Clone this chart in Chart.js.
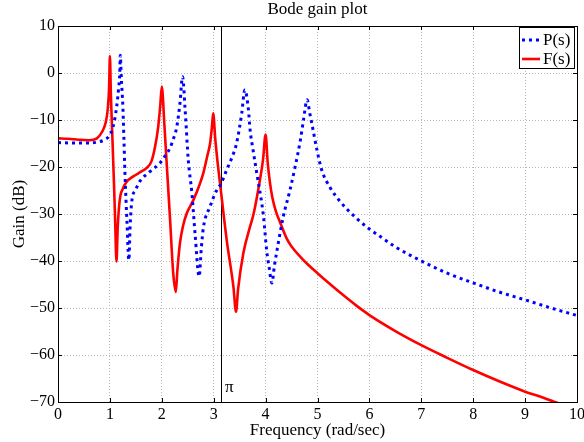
<!DOCTYPE html>
<html>
<head>
<meta charset="utf-8">
<script src="https://cdn.jsdelivr.net/npm/chart.js@4/dist/chart.umd.min.js"></script>
<style>
  html, body { margin: 0; padding: 0; background: #ffffff; }
  #wrap { width: 584px; height: 442px; }
</style>
</head>
<body>
<div id="wrap"><canvas id="c" width="584" height="442"></canvas></div>
<script>
// ---- data ----
const titleText = 'Bode gain plot';
const xTitle = 'Frequency (rad/sec)';
const yTitle = 'Gain (dB)';
const seriesNames = ['P(s)', 'F(s)'];

const xTicks = [0, 1, 2, 3, 4, 5, 6, 7, 8, 9, 10];
const yTicks = [10, 0, -10, -20, -30, -40, -50, -60, -70];

// P(s): blue dotted
const pFreq = [0, 0.3, 0.6, 0.8, 0.9, 1.0, 1.06, 1.13, 1.17, 1.19, 1.20, 1.22, 1.25, 1.27, 1.29, 1.33, 1.365,
  1.39, 1.42, 1.5, 1.58, 1.77, 1.96, 2.08, 2.16, 2.23, 2.29, 2.35, 2.40, 2.45, 2.51, 2.58, 2.64, 2.72,
  2.76, 2.80, 2.93, 3.06, 3.14, 3.25, 3.35, 3.44, 3.54, 3.60, 3.67, 3.70, 3.76, 3.83, 3.96, 4.02, 4.07,
  4.12, 4.17, 4.22, 4.34, 4.47, 4.57, 4.67, 4.73, 4.80, 4.85, 4.89, 4.99, 5.08, 5.25, 5.44, 5.57, 5.76,
  6.0, 6.21, 6.5, 7.02, 7.5, 8.01, 8.5, 9.01, 9.5, 10];
const pGain = [-14.8, -14.9, -14.9, -14.6, -14.2, -13.2, -11.5, -7.2, -3, -0.1, 3.8, -1, -7.2, -14, -21.3, -32, -39.8,
  -32.5, -27.5, -24.8, -23, -21, -19.2, -17.4, -15.9, -13.8, -11.4, -6.4, -0.8, -7.9, -18.5, -25.6, -34.1, -43.3,
  -37.5, -33, -28.4, -24.9, -23.6, -20.6, -18, -15, -8.6, -3.6, -7.9, -12, -16.5, -21.3, -30.6, -37.7, -41.5,
  -44.7, -41, -37.7, -30.6, -24.9, -19.9, -14.3, -10, -5.7, -8.5, -10.7, -16.4, -20.6, -24.5, -27.4, -29, -31,
  -33.2, -34.8, -37, -40.1, -42.6, -44.7, -46.6, -48.3, -50, -51.6];

// F(s): red solid
const fFreq = [0, 0.2, 0.4, 0.6, 0.75, 0.85, 0.92, 0.96, 0.985, 1.0, 1.02, 1.05, 1.08, 1.10, 1.127, 1.15, 1.19,
  1.25, 1.32, 1.45, 1.6, 1.71, 1.8, 1.87, 1.93, 1.97, 2.0, 2.05, 2.09, 2.16, 2.22, 2.27, 2.30, 2.35, 2.41,
  2.48, 2.61, 2.72, 2.80, 2.88, 2.93, 2.97, 2.99, 3.03, 3.08, 3.14, 3.25, 3.38, 3.43, 3.47, 3.57, 3.70, 3.77,
  3.89, 3.95, 4.0, 4.04, 4.08, 4.13, 4.2, 4.28, 4.41, 4.5, 4.67, 4.83, 5.0, 5.25, 5.5, 5.75, 6.0, 6.5, 7.0,
  7.5, 8.0, 8.5, 9.0, 9.3, 9.57, 10];
const fGain = [-13.9, -14.0, -14.2, -14.3, -13.9, -12.5, -10.5, -7.5, -3, 3.6, -5, -14.3, -24, -31, -40.1, -33, -27,
  -24.6, -23.2, -22, -21, -20.2, -18.8, -15.7, -11.5, -7, -2.9, -11, -18.5, -31.3, -42.6, -46.6, -42, -36.2, -32.5,
  -29.9, -27, -24, -21.3, -17.5, -15, -11, -8.6, -14, -19.5, -25.2, -35.5, -45.5, -50.8, -46, -38.4, -32.7, -29.9,
  -22.8, -18.5, -13.1, -19, -23, -26.5, -29.5, -31.8, -35.3, -36.9, -39.1, -40.9, -42.6, -45.0, -47.3, -49.5, -51.5, -54.9, -57.9,
  -60.6, -63.2, -65.6, -67.8, -68.9, -70, -71.5];

// marker line at pi
const markerFreq = Math.PI;
const markerLabel = 'π';

const pts = (xs, ys) => xs.map((x, i) => ({ x: x, y: ys[i] }));

const SERIF = '"Liberation Serif", "Times New Roman", serif';
const tickFont = { family: SERIF, size: 16 };
const labelFont = '17px ' + SERIF;

const decorPlugin = {
  id: 'decor',
  beforeDatasetsDraw(chart) {
    const ctx = chart.ctx;
    const px = Math.round(chart.scales.x.getPixelForValue(markerFreq)) + 0.5;
    ctx.save();
    ctx.strokeStyle = '#000';
    ctx.lineWidth = 1;
    ctx.beginPath();
    ctx.moveTo(px, chart.scales.y.getPixelForValue(10));
    ctx.lineTo(px, chart.scales.y.getPixelForValue(-70));
    ctx.stroke();
    ctx.restore();
  },
  afterDraw(chart) {
    const ctx = chart.ctx;
    const a = chart.chartArea;
    const xs = chart.scales.x, ys = chart.scales.y;
    ctx.save();
    // frame
    ctx.strokeStyle = '#000';
    ctx.lineWidth = 1;
    ctx.setLineDash([]);
    ctx.strokeRect(Math.round(a.left) + 0.5, Math.round(a.top) + 0.5,
      Math.round(a.right - a.left), Math.round(a.bottom - a.top));
    // inward ticks
    const tl = 4;
    ctx.beginPath();
    xTicks.forEach(v => {
      const px = Math.round(xs.getPixelForValue(v)) + 0.5;
      ctx.moveTo(px, a.bottom); ctx.lineTo(px, a.bottom - tl);
      ctx.moveTo(px, a.top); ctx.lineTo(px, a.top + tl);
    });
    yTicks.forEach(v => {
      const py = Math.round(ys.getPixelForValue(v)) + 0.5;
      ctx.moveTo(a.left, py); ctx.lineTo(a.left + tl, py);
      ctx.moveTo(a.right, py); ctx.lineTo(a.right - tl, py);
    });
    ctx.stroke();

    // title
    ctx.fillStyle = '#000';
    ctx.font = labelFont;
    ctx.textAlign = 'center';
    ctx.textBaseline = 'alphabetic';
    ctx.fillText(titleText, (a.left + a.right) / 2, 14);
    // x title
    ctx.fillText(xTitle, (a.left + a.right) / 2, 435);
    // y title
    ctx.save();
    ctx.translate(24, (a.top + a.bottom) / 2);
    ctx.rotate(-Math.PI / 2);
    ctx.fillText(yTitle, 0, 0);
    ctx.restore();

    // pi label
    ctx.textAlign = 'left';
    ctx.font = '17px ' + SERIF;
    ctx.fillText(markerLabel, xs.getPixelForValue(markerFreq) + 4, 392);

    // legend
    const lx = 519.5, ly = 27.5, lw = 55, lh = 41;
    ctx.fillStyle = '#fff';
    ctx.fillRect(lx, ly, lw, lh);
    ctx.strokeStyle = '#000';
    ctx.lineWidth = 1;
    ctx.strokeRect(lx, ly, lw, lh);
    const items = [chart.data.datasets[0], chart.data.datasets[1]];
    const rowY = [40, 59];
    items.forEach((ds, i) => {
      ctx.beginPath();
      ctx.strokeStyle = ds.borderColor;
      ctx.lineWidth = ds.borderWidth;
      ctx.lineCap = 'butt';
      ctx.setLineDash(ds.borderDash || []);
      ctx.moveTo(522, rowY[i]);
      ctx.lineTo(540, rowY[i]);
      ctx.stroke();
      ctx.setLineDash([]);
      ctx.fillStyle = '#000';
      ctx.font = labelFont;
      ctx.textBaseline = 'middle';
      ctx.fillText(ds.label, 543, rowY[i] + 1);
    });
    ctx.restore();
  }
};

new Chart(document.getElementById('c'), {
  type: 'line',
  data: {
    datasets: [
      {
        label: seriesNames[0],
        data: pts(pFreq, pGain),
        borderColor: '#0000ff',
        borderWidth: 3,
        borderDash: [3, 4],
        borderCapStyle: 'butt',
        pointRadius: 0,
        cubicInterpolationMode: 'monotone',
        fill: false
      },
      {
        label: seriesNames[1],
        data: pts(fFreq, fGain),
        borderColor: '#ff0000',
        borderWidth: 2.6,
        pointRadius: 0,
        cubicInterpolationMode: 'monotone',
        fill: false
      }
    ]
  },
  options: {
    responsive: false,
    animation: false,
    devicePixelRatio: 1,
    layout: { padding: { top: 26, right: 7, left: 0, bottom: 0 } },
    plugins: {
      legend: { display: false },
      title: { display: false },
      tooltip: { enabled: false }
    },
    scales: {
      x: {
        type: 'linear',
        min: 0, max: 10,
        afterBuildTicks: s => { s.ticks = xTicks.map(v => ({ value: v })); },
        afterFit: s => { s.height = 40; s.paddingLeft = 0; s.paddingRight = 0; },
        ticks: {
          color: '#000', font: tickFont, padding: 3, maxRotation: 0, autoSkip: false,
          callback: v => String(v)
        },
        grid: { color: '#b8b8b8', lineWidth: 1, drawTicks: false },
        border: { display: false, dash: [1, 2] }
      },
      y: {
        type: 'linear',
        min: -70, max: 10,
        afterBuildTicks: s => { s.ticks = yTicks.map(v => ({ value: v })); },
        afterFit: s => { s.width = 58; s.paddingTop = 0; s.paddingBottom = 0; },
        ticks: {
          color: '#000', font: tickFont, padding: 3, autoSkip: false,
          callback: v => (v < 0 ? '\u2212' + Math.abs(v) : String(v))
        },
        grid: { color: '#b8b8b8', lineWidth: 1, drawTicks: false },
        border: { display: false, dash: [1, 2] }
      }
    }
  },
  plugins: [decorPlugin]
});
</script>
</body>
</html>
